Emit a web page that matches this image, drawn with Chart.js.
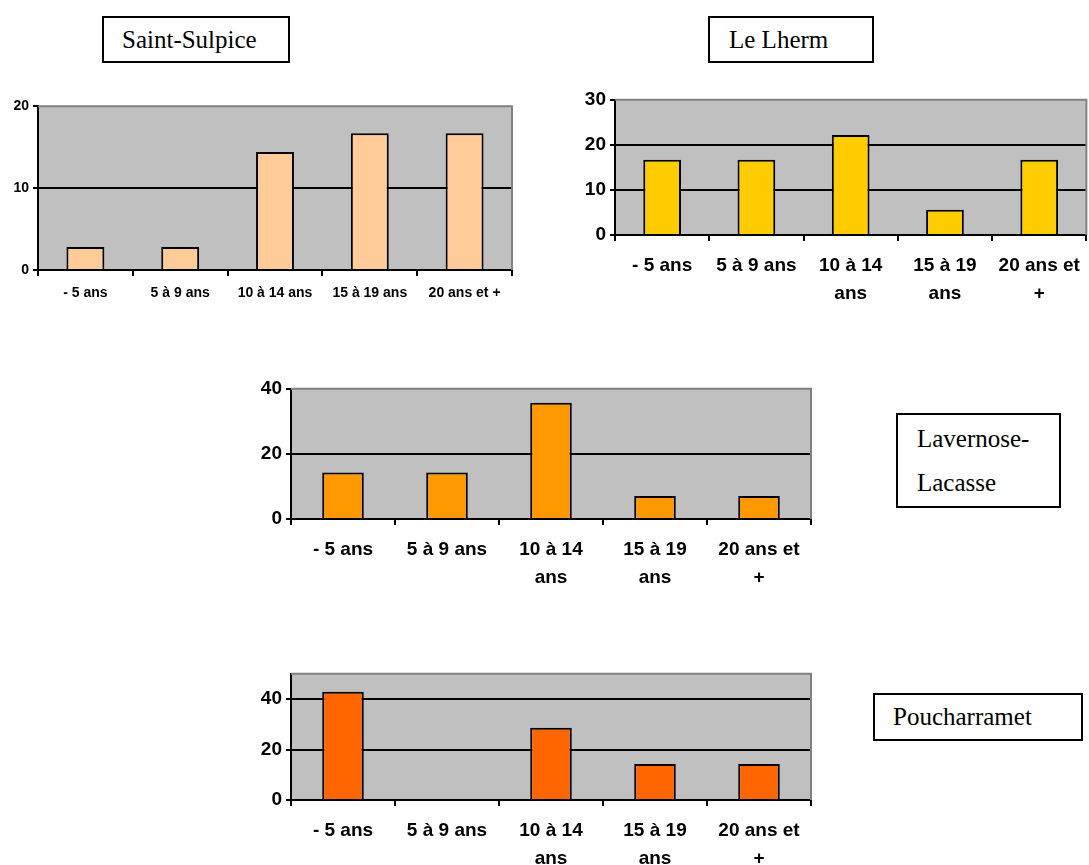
<!DOCTYPE html>
<html>
<head>
<meta charset="utf-8">
<script src="https://cdn.jsdelivr.net/npm/chart.js@4"></script>
<style>
    html, body { margin: 0; padding: 0; background: #fff; width: 1089px; height: 865px; overflow: hidden; }
    canvas { position: absolute; }
    .box {
        position: absolute;
        box-sizing: border-box;
        border: 2px solid #000;
        background: #fff;
        font-family: 'Liberation Serif', 'Times New Roman', serif;
        font-size: 25px;
        color: #000;
    }
</style>
</head>
<body>

<div class="box" style="left:102px; top:16px; width:188px; height:47px; padding-left:18px; line-height:43px;">Saint-Sulpice</div>
<div class="box" style="left:708px; top:16px; width:166px; height:47px; padding-left:19px; line-height:43px;">Le Lherm</div>
<div class="box" style="left:896px; top:413px; width:165px; height:95px; padding-left:19px; padding-top:2px; line-height:44px;">Lavernose-<br>Lacasse</div>
<div class="box" style="left:873px; top:693px; width:210px; height:48px; padding-left:18px; line-height:44px;">Poucharramet</div>

<canvas id="saintSulpice" width="525" height="228" style="left:0px; top:92px;"></canvas>
<canvas id="leLherm" width="531" height="233" style="left:560px; top:82px;"></canvas>
<canvas id="lavernose" width="600" height="234" style="left:230px; top:371px;"></canvas>
<canvas id="poucharramet" width="600" height="209" style="left:230px; top:656px;"></canvas>

<script>
// tranches d'âge
const ageGroups = ['- 5 ans', '5 à 9 ans', '10 à 14 ans', '15 à 19 ans', '20 ans et +'];
const ageGroupsWrapped = ['- 5 ans', '5 à 9 ans', ['10 à 14', 'ans'], ['15 à 19', 'ans'], ['20 ans et', '+']];

// valeurs (%) par commune
const saintSulpiceValues = [2.8, 2.8, 14.4, 16.7, 16.7];
const leLhermValues = [16.7, 16.7, 22.2, 5.6, 16.7];
const lavernoseValues = [14.3, 14.3, 35.7, 7.1, 7.1];
const poucharrametValues = [42.9, 0, 28.6, 14.3, 14.3];

// graduations de l'axe Y
const saintSulpiceTicks = [0, 10, 20];
const leLhermTicks = [0, 10, 20, 30];
const lavernoseTicks = [0, 20, 40];
const poucharrametTicks = [0, 20, 40];

// fond gris + bordure grise haut/droite (style Excel)
const plotArea = {
    id: 'plotArea',
    beforeDraw(chart) {
        const a = chart.chartArea;
        const ctx = chart.ctx;
        ctx.save();
        ctx.fillStyle = '#C0C0C0';
        ctx.fillRect(a.left, a.top, a.right - a.left, a.bottom - a.top);
        ctx.restore();
    },
    beforeDatasetsDraw(chart) {
        const a = chart.chartArea;
        const ctx = chart.ctx;
        ctx.save();
        ctx.strokeStyle = '#808080';
        ctx.lineWidth = 2;
        ctx.beginPath();
        ctx.moveTo(a.left, a.top);
        ctx.lineTo(a.right, a.top);
        ctx.lineTo(a.right, a.bottom);
        ctx.stroke();
        ctx.restore();
    }
};

function renderChart(id, labels, values, color, tickValues, max, o) {
    const font = { family: "'Liberation Sans', Arial, sans-serif", size: o.fontSize, weight: 'bold', lineHeight: 1.45 };
    new Chart(document.getElementById(id), {
        type: 'bar',
        data: {
            labels: labels,
            datasets: [{
                data: values,
                backgroundColor: color,
                borderColor: '#000',
                borderWidth: 2,
                borderSkipped: 'bottom',
                barPercentage: 0.4,
                categoryPercentage: 1
            }]
        },
        options: {
            responsive: false,
            devicePixelRatio: 1,
            animation: false,
            layout: { padding: { top: o.padTop, right: o.padRight, left: 0, bottom: 0 } },
            plugins: { legend: { display: false }, tooltip: { enabled: false } },
            scales: {
                x: {
                    grid: { offset: true, drawOnChartArea: false, drawTicks: true, tickLength: 6, color: '#000', lineWidth: 2 },
                    border: { color: '#000', width: 2 },
                    ticks: { color: '#000', font: font, padding: o.labelPad, maxRotation: 0, autoSkip: false },
                    afterFit: (scale) => { scale.height = o.xHeight; }
                },
                y: {
                    min: 0,
                    max: max,
                    afterBuildTicks: (scale) => { scale.ticks = tickValues.map(v => ({ value: v })); },
                    grid: {
                        color: (c) => (c.tick && c.tick.value === max) ? 'rgba(0,0,0,0)' : '#000',
                        tickColor: '#000',
                        lineWidth: 2,
                        tickLength: 5
                    },
                    border: { color: '#000', width: 2 },
                    ticks: { color: '#000', font: font, padding: 4 },
                    afterFit: (scale) => { scale.width = o.yWidth; }
                }
            }
        },
        plugins: [plotArea]
    });
}

renderChart('saintSulpice', ageGroups, saintSulpiceValues, '#FFCC99', saintSulpiceTicks, 20,
    { fontSize: 14, padTop: 8, padRight: 13, yWidth: 38, xHeight: 50, labelPad: 7 });
renderChart('leLherm', ageGroupsWrapped, leLhermValues, '#FFCC00', leLhermTicks, 30,
    { fontSize: 19, padTop: 11, padRight: 1, yWidth: 55, xHeight: 80, labelPad: 11 });
renderChart('lavernose', ageGroupsWrapped, lavernoseValues, '#FF9900', lavernoseTicks, 40,
    { fontSize: 19, padTop: 10, padRight: 19, yWidth: 61, xHeight: 86, labelPad: 11 });
renderChart('poucharramet', ageGroupsWrapped, poucharrametValues, '#FF6600', poucharrametTicks, 50,
    { fontSize: 19, padTop: 11, padRight: 19, yWidth: 61, xHeight: 65, labelPad: 11 });
</script>
</body>
</html>
